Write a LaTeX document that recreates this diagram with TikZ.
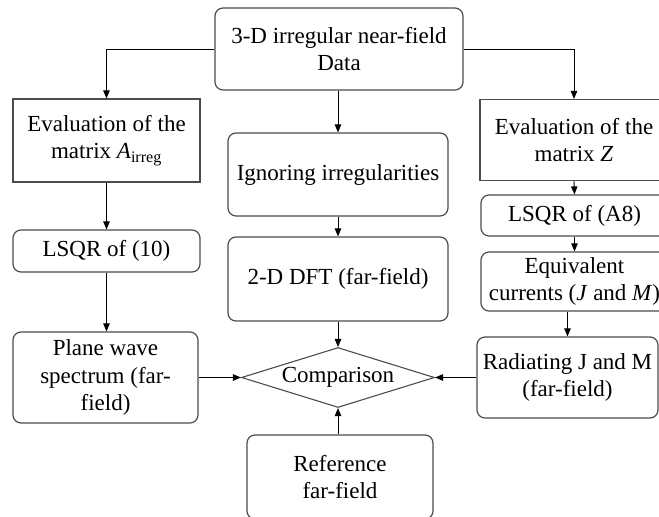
\documentclass[tikz,border=0pt]{standalone}
\usepackage{fontspec}
\setmainfont{Liberation Serif}
\usetikzlibrary{shapes.geometric,arrows.meta}
\begin{document}
\begin{tikzpicture}[x=1pt,y=-1pt,
  every node/.style={font=\fontsize{23}{27.5}\selectfont, align=center, inner sep=0pt},
  rbox/.style={draw=black!70, line width=1.2pt, rounded corners=8pt},
  sbox/.style={draw=black!70, line width=1.2pt},
  conn/.style={draw=black, line width=0.9pt, -{Triangle[length=8pt,width=6.5pt]}}]
\useasboundingbox (0,0) rectangle (659,517);
\clip (0,0) rectangle (659,517);
% top
\node[rbox, minimum width=248pt, minimum height=82pt] (top) at (339,49) {3-D irregular near-field\\Data};
% left column
\node[sbox, minimum width=187pt, minimum height=83pt] (evalA) at (106.5,140.5) {Evaluation of the\\matrix \textit{A}\textsubscript{irreg}};
\node[rbox, minimum width=187pt, minimum height=42pt] (lsqA) at (106.5,251) {LSQR of (10)};
\node[rbox, minimum width=185pt, minimum height=91pt] (plane) at (105.5,377.5) {Plane wave\\spectrum (far-\\field)};
% middle column
\node[rbox, minimum width=220pt, minimum height=83pt] (ign) at (338,174.5) {Ignoring irregularities};
\node[rbox, minimum width=220pt, minimum height=84pt] (dft) at (338,279) {2-D DFT (far-field)};
\node[draw=black!70, line width=1.1pt, diamond, aspect=3.2, minimum width=193pt, minimum height=60pt] (cmp) at (338,377.5) {Comparison};
\node[rbox, minimum width=186pt, minimum height=84pt] (ref) at (340,477) {Reference\\far-field};
% right column
\node[sbox, minimum width=188pt, minimum height=81pt] (evalZ) at (574,140) {Evaluation of the\\matrix \textit{Z}};
\node[rbox, minimum width=187pt, minimum height=41pt] (lsqZ) at (574.5,215.5) {LSQR of (A8)};
\node[rbox, minimum width=187pt, minimum height=59pt] (equiv) at (574.5,281.5) {Equivalent\\currents (\textit{J} and \textit{M})};
\node[rbox, minimum width=181pt, minimum height=81pt] (rad) at (567.5,377.5) {Radiating J and M\\(far-field)};
% connectors
\draw[conn] (top.west) -| (evalA.north);
\draw[conn] (top.east) -| (evalZ.north);
\draw[conn] (ign.north |- top.south) -- (ign.north);
\draw[conn] (ign.south) -- (dft.north);
\draw[conn] (dft.south) -- (cmp.north);
\draw[conn] (cmp.south |- ref.north) -- (cmp.south);
\draw[conn] (evalA.south) -- (lsqA.north);
\draw[conn] (lsqA.south) -- (lsqA.south |- plane.north);
\draw[conn] (plane.east) -- (cmp.west);
\draw[conn] (evalZ.south) -- (lsqZ.north);
\draw[conn] (lsqZ.south) -- (equiv.north);
\draw[conn] (equiv.south -| rad.north) -- (rad.north);
\draw[conn] (rad.west) -- (cmp.east);
\end{tikzpicture}
\end{document}
